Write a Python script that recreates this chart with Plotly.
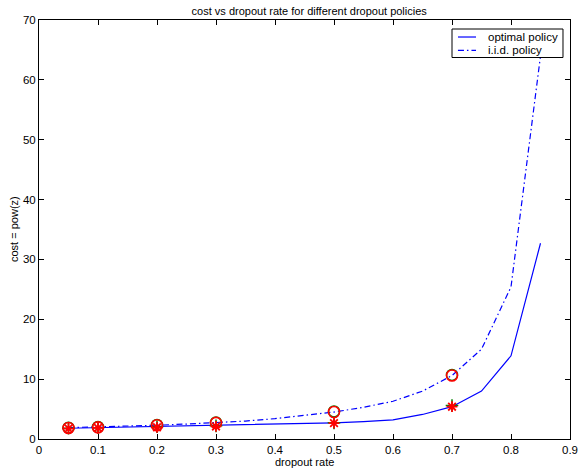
import plotly.graph_objects as go

rate = [0.05, 0.1, 0.15, 0.2, 0.25, 0.3, 0.35, 0.4, 0.45, 0.5, 0.55, 0.6, 0.65, 0.7, 0.75, 0.8, 0.85]
optimal = [1.8, 1.9, 1.95, 2.0, 2.1, 2.2, 2.3, 2.4, 2.55, 2.7, 2.9, 3.2, 4.1, 5.4, 8.0, 13.9, 32.7]
iid = [1.9, 2.0, 2.15, 2.3, 2.5, 2.7, 3.0, 3.4, 3.9, 4.5, 5.3, 6.3, 8.0, 10.6, 15.0, 25.4, 64.0]

sim_rate = [0.05, 0.1, 0.2, 0.3, 0.5, 0.7]
sim_iid_a = [1.9, 2.0, 2.35, 2.75, 4.6, 10.7]
sim_iid_b = [1.85, 1.95, 2.3, 2.7, 4.5, 10.6]
sim_opt_a = [1.8, 1.9, 2.05, 2.2, 2.7, 5.6]
sim_opt_b = [1.75, 1.85, 1.95, 2.1, 2.65, 5.4]

series_names = ["optimal policy", "i.i.d. policy"]
series_dash = ["solid", "6px,3px,1.5px,3px"]

FONT = "Liberation Sans, Arial, Helvetica"
BLUE = "#0000ff"

fig = go.Figure()
fig.add_trace(go.Scatter(x=rate, y=optimal, mode="lines", name=series_names[0],
                         line=dict(color=BLUE, width=1.2, dash=series_dash[0])))
fig.add_trace(go.Scatter(x=rate, y=iid, mode="lines", name=series_names[1],
                         line=dict(color=BLUE, width=1.2, dash=series_dash[1])))
fig.add_trace(go.Scatter(x=sim_rate, y=sim_iid_a, mode="markers", showlegend=False,
                         marker=dict(symbol="circle-open", size=11, color="#008000", line=dict(width=1.5))))
fig.add_trace(go.Scatter(x=sim_rate, y=sim_opt_a, mode="markers", showlegend=False,
                         marker=dict(symbol="cross-thin-open", size=9, color="#008000", line=dict(width=1.5))))
fig.add_trace(go.Scatter(x=sim_rate, y=sim_iid_b, mode="markers", showlegend=False,
                         marker=dict(symbol="circle-open", size=11, color="#ff0000", line=dict(width=1.6))))
fig.add_trace(go.Scatter(x=sim_rate, y=sim_opt_b, mode="markers", showlegend=False,
                         marker=dict(symbol="asterisk-open", size=9, color="#ff0000", line=dict(width=1.8))))

axis_common = dict(showgrid=False, zeroline=False, showline=True, linecolor="black", linewidth=1,
                   mirror="ticks", ticks="inside", ticklen=5, tickcolor="black", automargin=False,
                   tickfont=dict(family=FONT, size=11.5, color="black"))
fig.update_xaxes(range=[0, 0.9], dtick=0.1, **axis_common)
fig.update_yaxes(range=[0, 70], dtick=10, **axis_common)

# compact legend box (MATLAB style)
shapes = [dict(type="rect", xref="paper", yref="paper", x0=0.7778, x1=0.9868, y0=0.9105, y1=0.9785,
               line=dict(color="black", width=1), fillcolor="white", layer="above")]
annotations = []
row_y = [0.9594, 0.9273]
for name, dash, yy in zip(series_names, series_dash, row_y):
    shapes.append(dict(type="line", xref="paper", yref="paper", x0=0.789, x1=0.823, y0=yy, y1=yy,
                       line=dict(color=BLUE, width=1.2, dash=dash), layer="above"))
    annotations.append(dict(text=name, xref="paper", yref="paper", x=0.8418, y=yy,
                            xanchor="left", yanchor="middle", showarrow=False,
                            font=dict(family=FONT, size=11.5, color="black")))

annotations += [
    dict(text="dropout rate", xref="paper", yref="paper", x=0.5, y=-0.055,
         xanchor="center", yanchor="middle", showarrow=False,
         font=dict(family=FONT, size=11, color="black")),
    dict(text="cost = pow(z)", xref="paper", yref="paper", x=-0.048, y=0.5, textangle=-90,
         xanchor="center", yanchor="middle", showarrow=False,
         font=dict(family=FONT, size=11, color="black")),
]

fig.update_layout(
    width=578, height=470,
    margin=dict(l=39, r=8, t=20, b=31, autoexpand=False),
    paper_bgcolor="white", plot_bgcolor="white",
    title=dict(text="cost vs dropout rate for different dropout policies", x=0.535, xanchor="center",
               y=0.985, yanchor="top", font=dict(family=FONT, size=11, color="black")),
    showlegend=False,
    shapes=shapes,
    annotations=annotations,
)

fig.write_html("out.html", config={"displayModeBar": False},
               post_script="document.body.style.margin='0';document.body.style.overflow='hidden';")
